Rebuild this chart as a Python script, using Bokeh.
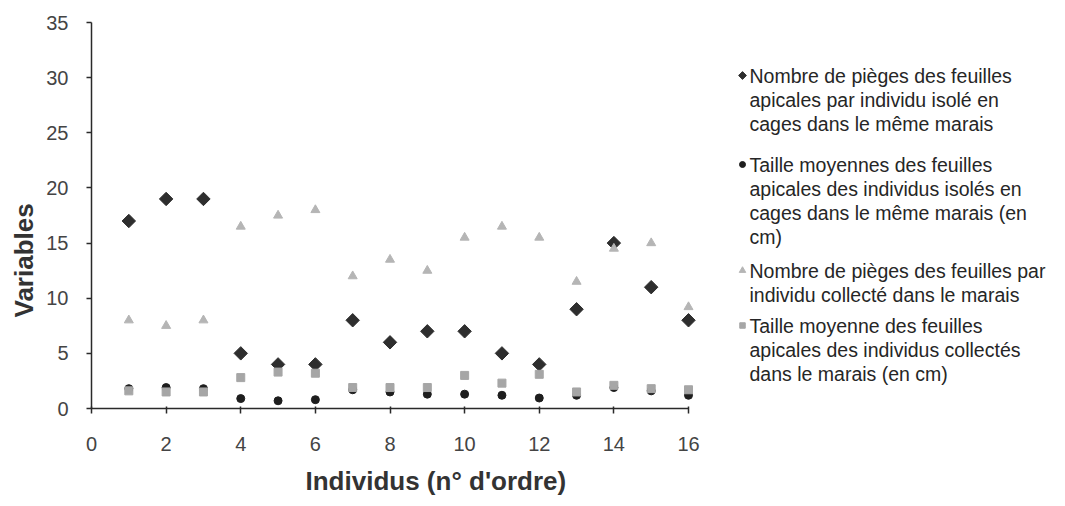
from bokeh.plotting import figure
from bokeh.models import Range1d, FixedTicker, Title
from bokeh.embed import file_html
from bokeh.resources import INLINE
from bokeh.core.properties import value
import math

# ---------------- data ----------------
individus = list(range(1, 17))
pieges_cages = [17, 19, 19, 5, 4, 4, 8, 6, 7, 7, 5, 4, 9, 15, 11, 8]
taille_cages = [1.8, 1.9, 1.8, 0.9, 0.7, 0.8, 1.7, 1.5, 1.3, 1.3, 1.2, 0.95, 1.2, 1.9, 1.6, 1.2]
pieges_marais = [8, 7.5, 8, 16.5, 17.5, 18, 12, 13.5, 12.5, 15.5, 16.5, 15.5, 11.5, 14.5, 15, 9.2]
taille_marais = [1.6, 1.5, 1.5, 2.8, 3.3, 3.2, 1.9, 1.9, 1.9, 3.0, 2.3, 3.1, 1.5, 2.1, 1.8, 1.7]

x_ticks = [0, 2, 4, 6, 8, 10, 12, 14, 16]
y_ticks = [0, 5, 10, 15, 20, 25, 30, 35]

legend_labels = [
    ["Nombre de pièges des feuilles", "apicales par individu isolé en", "cages dans le même marais"],
    ["Taille moyennes des feuilles", "apicales des individus isolés en",
     "cages dans le même marais (en", "cm)"],
    ["Nombre de pièges des feuilles par", "individu  collecté dans le marais"],
    ["Taille moyenne des feuilles", "apicales des individus collectés",
     "dans le marais (en cm)"],
]

x_title = "Individus (n° d'ordre)"
y_title = "Variables"

# ---------------- layout ----------------
W, H = 1049, 506
LEFT, TOP = 91, 22
FRAME_BOTTOM = 408
BOTTOM = H - FRAME_BOTTOM
frame_w = W - LEFT
frame_h = FRAME_BOTTOM - TOP
px_per_x = (688 - 91) / 16.0
px_per_y = frame_h / 35.0
x_end = frame_w / px_per_x

FONT = "Liberation Sans"

p = figure(width=W, height=H, x_range=Range1d(0, x_end), y_range=Range1d(0, 35),
           min_border_left=LEFT, min_border_right=0, min_border_top=TOP,
           min_border_bottom=BOTTOM, toolbar_location=None, output_backend="svg",
           background_fill_color="white", border_fill_color="white")
p.outline_line_color = None
p.grid.visible = False

for ax in (p.xaxis[0], p.yaxis[0]):
    ax.axis_line_color = "#2a2a2a"
    ax.axis_line_width = 1.5
    ax.major_tick_line_color = "#2a2a2a"
    ax.major_tick_line_width = 1.5
    ax.major_tick_out = 5
    ax.major_tick_in = 0
    ax.minor_tick_line_color = None
    ax.major_label_text_font = FONT
    ax.major_label_text_font_size = "20px"
    ax.major_label_text_color = "#444444"

p.xaxis[0].bounds = (0, 16)
p.xaxis[0].ticker = FixedTicker(ticks=x_ticks)
p.xaxis[0].major_tick_in = 2
p.xaxis[0].major_label_standoff = 23
p.yaxis[0].bounds = (0, 35)
p.yaxis[0].ticker = FixedTicker(ticks=y_ticks)
p.yaxis[0].major_label_standoff = 18

# axis titles
p.add_layout(Title(text=x_title, align="left", offset=214, text_font=FONT,
                   text_font_size="26px", text_font_style="bold", text_color="#333333",
                   standoff=20), "below")
p.add_layout(Title(text=y_title, align="left", offset=91, text_font=FONT,
                   text_font_size="26px", text_font_style="bold", text_color="#333333",
                   standoff=9), "left")

# ---------------- series ----------------
p.scatter(individus, pieges_cages, marker="square", size=9.5, angle=math.pi / 4,
          fill_color="#2e2e2e", line_color="#2e2e2e")
p.scatter(individus, taille_cages, marker="circle", size=8,
          fill_color="#1e1e1e", line_color="#1e1e1e")
p.scatter(individus, pieges_marais, marker="triangle", size=9,
          fill_color="#b5b5b5", line_color="#b5b5b5")
p.scatter(individus, taille_marais, marker="square", size=8,
          fill_color="#a6a6a6", line_color="#a6a6a6")

# ---------------- legend (manual, wrapped text) ----------------
def px_to_x(px):
    return (px - LEFT) / px_per_x


def py_to_y(py):
    return (FRAME_BOTTOM - py) / px_per_y


entry_first_lines = [75, 164, 270, 325]
line_gap = 24
legend_markers = [("square", "#2e2e2e", 5.5, math.pi / 4), ("circle", "#1e1e1e", 6, 0),
                  ("triangle", "#b5b5b5", 6.5, 0), ("square", "#a6a6a6", 5.5, 0)]

tx, ty, tt = [], [], []
for first, lines in zip(entry_first_lines, legend_labels):
    for i, line in enumerate(lines):
        tx.append(px_to_x(749))
        ty.append(py_to_y(first + i * line_gap))
        tt.append(line)
p.text(x=tx, y=ty, text=tt, text_font=value(FONT), text_font_size="19.5px",
       text_color="#262626", text_baseline="middle", text_align="left")

for first, (mk, col, sz, ang) in zip(entry_first_lines, legend_markers):
    p.scatter([px_to_x(742)], [py_to_y(first)], marker=mk, size=sz, angle=ang,
              fill_color=col, line_color=col)

open("out.html", "w").write(file_html(p, INLINE))
